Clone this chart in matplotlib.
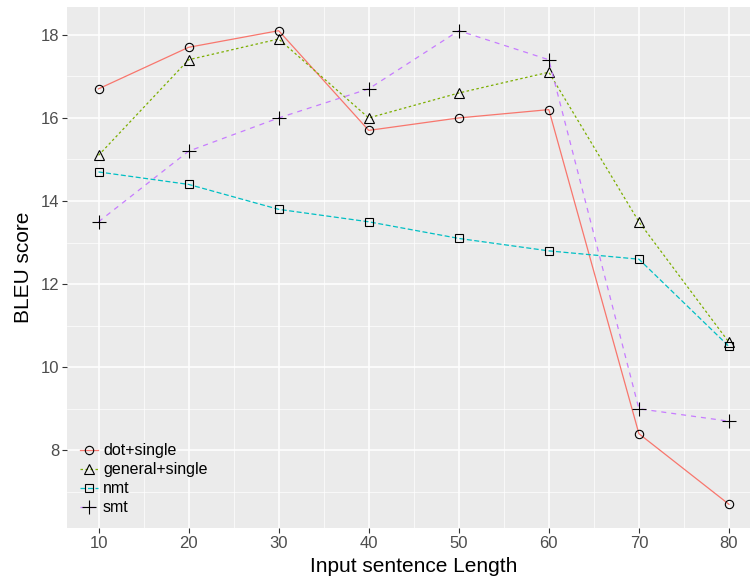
import matplotlib
matplotlib.use("Agg")
import matplotlib.pyplot as plt
from matplotlib.ticker import MultipleLocator

plt.rcParams['font.family'] = ['Liberation Sans', 'DejaVu Sans']

lengths = [10, 20, 30, 40, 50, 60, 70, 80]
series_names = ["dot+single", "general+single", "nmt", "smt"]
dot_single = [16.7, 17.7, 18.1, 15.7, 16.0, 16.2, 8.4, 6.7]
general_single = [15.1, 17.4, 17.9, 16.0, 16.6, 17.1, 13.5, 10.6]
nmt = [14.7, 14.4, 13.8, 13.5, 13.1, 12.8, 12.6, 10.5]
smt = [13.5, 15.2, 16.0, 16.7, 18.1, 17.4, 9.0, 8.7]
x_ticks = [10, 20, 30, 40, 50, 60, 70, 80]
y_ticks = [8, 10, 12, 14, 16, 18]

colors = ["#F8766D", "#7CAE00", "#00BFC4", "#C77CFF"]
markers = ["o", "^", "s", "+"]
msizes = [6, 7.5, 6, 9.5]
dashes = [None, (2, 2), (4, 2), (4, 4)]

fig = plt.figure(figsize=(7.5, 5.82), dpi=100)
ax = fig.add_axes([67/750, 1-528/582, 693.5/750, (528-7)/582])
ax.set_facecolor("#EBEBEB")

data = [dot_single, general_single, nmt, smt]
for name, vals, c, m, ms, d in zip(series_names, data, colors, markers, msizes, dashes):
    line, = ax.plot(lengths, vals, color=c, lw=0.9, marker=m, markersize=ms,
                    markerfacecolor="none", markeredgecolor="black",
                    markeredgewidth=0.8, label=name, zorder=3)
    if d is not None:
        line.set_dashes(d)

ax.set_xlim(6.5, 83.5)
ax.set_ylim(6.13, 18.67)
ax.set_xticks(x_ticks)
ax.set_yticks(y_ticks)
ax.xaxis.set_minor_locator(MultipleLocator(5))
ax.yaxis.set_minor_locator(MultipleLocator(1))
ax.grid(which="major", color="white", lw=1.1, zorder=0)
ax.grid(which="minor", color="white", lw=0.5, zorder=0)
ax.set_axisbelow(True)
for s in ax.spines.values():
    s.set_visible(False)
ax.tick_params(which="major", length=3.4, width=0.8, color="#333333",
               labelsize=12, labelcolor="#4D4D4D", pad=2)
ax.tick_params(which="minor", length=0)

ax.set_xlabel("Input sentence Length", fontsize=15, color="black", labelpad=5)
ax.set_ylabel("BLEU score", fontsize=15, color="black", labelpad=6)

leg = ax.legend(loc="lower left", bbox_to_anchor=(0.0, 0.0), frameon=False,
                fontsize=11.5, handlelength=1.15, handletextpad=0.3,
                labelspacing=0.25, borderaxespad=0.4)

fig.savefig("out.png", dpi=100)
